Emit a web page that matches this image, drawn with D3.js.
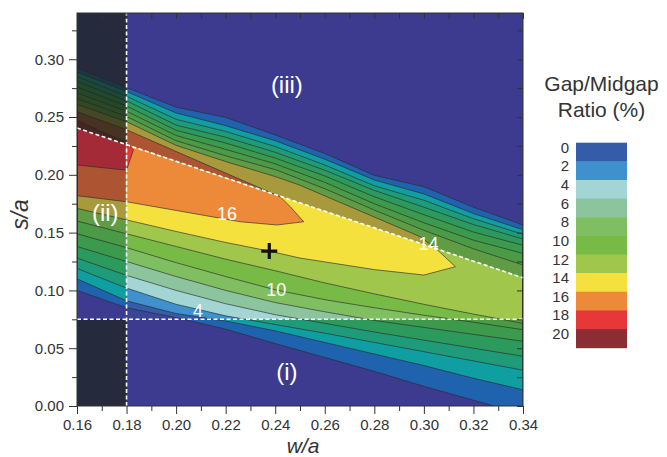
<!DOCTYPE html>
<html>
<head>
<meta charset="utf-8">
<script src="https://cdn.jsdelivr.net/npm/d3@7"></script>
<style>
  body { margin: 0; background: #fff; }
  svg text { font-family: "Liberation Sans", Arial, Helvetica, sans-serif; }
</style>
</head>
<body>
<svg id="chart" width="667" height="457"></svg>
<script>
// Contour levels (gap/midgap ratio, %)
const levels = [0, 2, 4, 6, 8, 10, 12, 14, 16, 18];
const wCols = [0.16, 0.18, 0.20, 0.22, 0.24, 0.26, 0.28, 0.30, 0.32, 0.34];

// s/a of each contour below the ridge, read at wCols
const lowerS = [
  [0.100, 0.085, 0.0765, 0.0665, 0.054, 0.042, 0.030, 0.017, 0.005, -0.007],
  [0.110, 0.091, 0.080, 0.0735, 0.065, 0.055, 0.045, 0.035, 0.024, 0.014],
  [0.119, 0.102, 0.088, 0.078, 0.0705, 0.063, 0.055, 0.047, 0.039, 0.031],
  [0.128, 0.113, 0.100, 0.0885, 0.079, 0.0715, 0.064, 0.057, 0.050, 0.043],
  [0.138, 0.125, 0.112, 0.100, 0.0895, 0.0815, 0.074, 0.068, 0.062, 0.056],
  [0.149, 0.137, 0.124, 0.112, 0.1005, 0.092, 0.085, 0.0785, 0.0725, 0.066],
  [0.160, 0.149, 0.138, 0.127, 0.117, 0.1065, 0.097, 0.088, 0.0795, 0.0715]
];
// s/a of each contour above the ridge, read at wCols
const upperS = [
  [0.2925, 0.2755, 0.2585, 0.2497, 0.2345, 0.2185, 0.1995, 0.1897, 0.172, 0.1566],
  [0.289, 0.272, 0.2535, 0.2425, 0.2295, 0.2135, 0.1955, 0.1835, 0.1665, 0.1525],
  [0.285, 0.268, 0.248, 0.2375, 0.2245, 0.2085, 0.1905, 0.178, 0.162, 0.1485],
  [0.281, 0.264, 0.243, 0.2325, 0.2195, 0.204, 0.1865, 0.172, 0.157, 0.1445],
  [0.276, 0.2595, 0.2385, 0.2275, 0.2145, 0.199, 0.181, 0.1655, 0.1505, 0.139],
  [0.271, 0.255, 0.234, 0.222, 0.2095, 0.1935, 0.175, 0.1585, 0.1435, 0.132],
  [0.266, 0.2505, 0.2295, 0.2165, 0.2045, 0.188, 0.1695, 0.152, 0.136, 0.122]
];
// closed contours 14, 16, 18: [w, s] points, lower side ends at the tip
const lower14 = [[0.16, 0.171], [0.18, 0.161], [0.20, 0.151], [0.22, 0.1415], [0.2376, 0.134], [0.25, 0.128], [0.28, 0.118], [0.30, 0.1133], [0.3127, 0.1205]];
const upper14 = [[0.16, 0.261], [0.18, 0.246], [0.20, 0.2255], [0.22, 0.2115], [0.24, 0.1985], [0.25, 0.191], [0.26, 0.1818], [0.28, 0.1635], [0.2985, 0.1465], [0.305, 0.136]];
const lower16 = [[0.16, 0.182], [0.18, 0.1767], [0.20, 0.1692], [0.2259, 0.1594], [0.2407, 0.1566], [0.2515, 0.1594]];
const upper16 = [[0.16, 0.2546], [0.18, 0.239], [0.2017, 0.2186], [0.22, 0.2015], [0.242, 0.181], [0.2461, 0.1724]];
const lower18 = [[0.16, 0.2085], [0.18, 0.204], [0.1828, 0.2215]];
const upper18 = [[0.16, 0.247], [0.18, 0.228]];

// colours: legend (highlighted window) and the dimmer outside
const legendLabels = [0, 2, 4, 6, 8, 10, 12, 14, 16, 18, 20];
const innerColors = ['#345ca8', '#3e91cd', '#a2d5d4', '#8cc59d', '#80be62', '#78ba46', '#a0c64c', '#f5e13e', '#ed8a3a', '#e63839', '#8c2d34'];
const outerColors = ['#1f62ad', '#0f9ea2', '#1e9c7a', '#2c9a5c', '#3b9a4c', '#4a9a46', '#5f9c44', '#a89a3c', '#ad5533', '#a52a37', '#7a2630'];
const noGapOuter = '#3d3b8f';
const noGapInner = '#3b4596';

// window boundaries (dashed)
const wMin = 0.18;
const sMin = 0.075;
const slant = [[0.16, 0.2405], [0.34, 0.1109]];
const optimum = [0.2376, 0.134];

const contourLabels = [
  { t: '16', w: 0.2205, s: 0.1667 },
  { t: '14', w: 0.3019, s: 0.1407 },
  { t: '10', w: 0.2404, s: 0.1003 },
  { t: '4', w: 0.2088, s: 0.0822 }
];
const regionLabels = [
  { t: '(iii)', w: 0.2447, s: 0.278 },
  { t: '(ii)', w: 0.1714, s: 0.167 },
  { t: '(i)', w: 0.2447, s: 0.0297 }
];

const xTicks = [0.16, 0.18, 0.20, 0.22, 0.24, 0.26, 0.28, 0.30, 0.32, 0.34];
const xMinor = [0.17, 0.19, 0.21, 0.23, 0.25, 0.27, 0.29, 0.31, 0.33];
const yTicks = [0, 0.05, 0.10, 0.15, 0.20, 0.25, 0.30];
const yMinor = [0.025, 0.075, 0.125, 0.175, 0.225, 0.275, 0.325];

const svg = d3.select('#chart');
const x = d3.scaleLinear().domain([0.16, 0.34]).range([77, 523]);
const y = d3.scaleLinear().domain([0, 0.34]).range([406, 13]);
const slantAt = d3.scaleLinear().domain([slant[0][0], slant[1][0]]).range([slant[0][1], slant[1][1]]);
const line = d3.line().x(d => x(d[0])).y(d => y(d[1]));

// superlevel polygons, one per level
const toPts = arr => arr.map((s, i) => [wCols[i], s]);
const polys = [];
lowerS.forEach((lo, i) => polys.push(toPts(lo).concat(toPts(upperS[i]).reverse())));
polys.push(lower14.concat(upper14.slice().reverse()));
polys.push(lower16.concat(upper16.slice().reverse()));
polys.push(lower18.concat(upper18.slice().reverse()));

const defs = svg.append('defs');
defs.append('clipPath').attr('id', 'plotClip').append('rect')
  .attr('x', x(0.16)).attr('y', y(0.34))
  .attr('width', x(0.34) - x(0.16)).attr('height', y(0) - y(0.34));
const innerPts = [[wMin, sMin], [0.34, sMin], [0.34, slantAt(0.34)], [wMin, slantAt(wMin)]];
defs.append('clipPath').attr('id', 'innerClip').append('path')
  .attr('d', line(innerPts) + 'Z');

const plot = svg.append('g').attr('clip-path', 'url(#plotClip)');

// outside colours
plot.append('rect')
  .attr('x', x(0.16)).attr('y', y(0.34))
  .attr('width', x(0.34) - x(0.16)).attr('height', y(0) - y(0.34))
  .attr('fill', noGapOuter);
plot.selectAll('path.outer').data(polys).enter().append('path')
  .attr('class', 'outer')
  .attr('d', d => line(d) + 'Z')
  .attr('fill', (d, i) => outerColors[i]);

// highlighted window
const inner = plot.append('g').attr('clip-path', 'url(#innerClip)');
inner.append('path').attr('d', line(innerPts) + 'Z').attr('fill', noGapInner);
inner.selectAll('path.inner').data(polys).enter().append('path')
  .attr('class', 'inner')
  .attr('d', d => line(d) + 'Z')
  .attr('fill', (d, i) => innerColors[i]);

// contour lines
plot.selectAll('path.iso').data(polys).enter().append('path')
  .attr('class', 'iso')
  .attr('d', d => line(d) + 'Z')
  .attr('fill', 'none')
  .attr('stroke', '#2b2b2b')
  .attr('stroke-opacity', 0.8)
  .attr('stroke-width', 0.8);

// darker strip w/a < 0.18 outside the band
const darkTop = [[0.16, 0.34], [wMin, 0.34], [wMin, slantAt(wMin)], [0.16, slantAt(0.16)]];
const darkBottom = [[0.16, 0], [wMin, 0], [wMin, sMin], [0.16, sMin]];
plot.selectAll('path.dark').data([darkTop, darkBottom]).enter().append('path')
  .attr('class', 'dark')
  .attr('d', d => line(d) + 'Z')
  .attr('fill', 'rgb(28,36,25)')
  .attr('fill-opacity', 0.7);

// dashed window edges
const dashed = [
  [[wMin, 0], [wMin, 0.34]],
  [[0.16, sMin], [0.34, sMin]],
  slant
];
plot.selectAll('path.dash').data(dashed).enter().append('path')
  .attr('class', 'dash')
  .attr('d', d => line(d))
  .attr('fill', 'none')
  .attr('stroke', '#fff')
  .attr('stroke-width', 1.6)
  .attr('stroke-dasharray', '4,2.5');

// labels in the plot
plot.selectAll('text.clab').data(contourLabels).enter().append('text')
  .attr('class', 'clab')
  .attr('x', d => x(d.w)).attr('y', d => y(d.s)).attr('dy', '0.35em')
  .attr('text-anchor', 'middle')
  .attr('font-size', 18)
  .attr('fill', '#fff')
  .text(d => d.t);
plot.selectAll('text.rlab').data(regionLabels).enter().append('text')
  .attr('class', 'rlab')
  .attr('x', d => x(d.w)).attr('y', d => y(d.s)).attr('dy', '0.35em')
  .attr('text-anchor', 'middle')
  .attr('font-size', 24)
  .attr('fill', '#fff')
  .text(d => d.t);

// optimum marker
const px = x(optimum[0]), py = y(optimum[1]);
plot.append('path')
  .attr('d', `M${px - 8},${py}H${px + 8}M${px},${py - 8}V${py + 8}`)
  .attr('stroke', '#111').attr('stroke-width', 3.2);

// axes
function styleAxis(g) {
  g.select('.domain').remove();
  g.selectAll('.tick line').attr('stroke', '#333');
  g.selectAll('.tick text').attr('font-size', 15).attr('fill', '#333')
    .style('font-family', '"Liberation Sans", Arial, sans-serif');
}
svg.append('g').attr('transform', `translate(0,${y(0)})`)
  .call(d3.axisBottom(x).tickValues(xTicks).tickSize(8).tickPadding(5).tickFormat(d3.format('.2f')))
  .call(styleAxis);
svg.append('g').attr('transform', `translate(0,${y(0)})`)
  .call(d3.axisBottom(x).tickValues(xMinor).tickSize(5).tickFormat(''))
  .call(styleAxis);
svg.append('g').attr('transform', `translate(0,${y(0.34)})`)
  .call(d3.axisBottom(x).tickValues(xTicks.concat(xMinor)).tickSize(6).tickFormat(''))
  .call(styleAxis);
svg.append('g').attr('transform', `translate(${x(0.16)},0)`)
  .call(d3.axisLeft(y).tickValues(yTicks).tickSize(8).tickPadding(5).tickFormat(d3.format('.2f')))
  .call(styleAxis);
svg.append('g').attr('transform', `translate(${x(0.16)},0)`)
  .call(d3.axisLeft(y).tickValues(yMinor).tickSize(5).tickFormat(''))
  .call(styleAxis);
svg.append('g').attr('transform', `translate(${x(0.34)},0)`)
  .call(d3.axisLeft(y).tickValues(yTicks.concat(yMinor)).tickSize(6).tickFormat(''))
  .call(styleAxis);

svg.append('rect')
  .attr('x', x(0.16)).attr('y', y(0.34))
  .attr('width', x(0.34) - x(0.16)).attr('height', y(0) - y(0.34))
  .attr('fill', 'none').attr('stroke', '#333').attr('stroke-width', 1);

svg.append('text')
  .attr('x', (x(0.16) + x(0.34)) / 2 + 3).attr('y', 453)
  .attr('text-anchor', 'middle')
  .attr('font-size', 21).attr('font-style', 'italic').attr('fill', '#333')
  .text('w/a');
svg.append('text')
  .attr('transform', `translate(28,${(y(0) + y(0.34)) / 2 + 5}) rotate(-90)`)
  .attr('text-anchor', 'middle')
  .attr('font-size', 23).attr('font-style', 'italic').attr('fill', '#333')
  .text('s/a');

// legend
const legend = svg.append('g');
const ly = d3.scaleBand().domain(legendLabels).range([142.7, 347.7]);
legend.selectAll('rect').data(legendLabels).enter().append('rect')
  .attr('x', 576).attr('width', 51)
  .attr('y', d => ly(d)).attr('height', ly.bandwidth() + 0.5)
  .attr('fill', (d, i) => innerColors[i]);
legend.selectAll('text.lv').data(legendLabels).enter().append('text')
  .attr('class', 'lv')
  .attr('x', 569).attr('y', d => ly(d) + 10)
  .attr('text-anchor', 'end')
  .attr('font-size', 15).attr('fill', '#333')
  .text(d => d);
legend.selectAll('text.lt').data(['Gap/Midgap', 'Ratio (%)']).enter().append('text')
  .attr('class', 'lt')
  .attr('x', 601.5).attr('y', (d, i) => 91 + i * 26)
  .attr('text-anchor', 'middle')
  .attr('font-size', 21).attr('fill', '#333')
  .text(d => d);
</script>
</body>
</html>
